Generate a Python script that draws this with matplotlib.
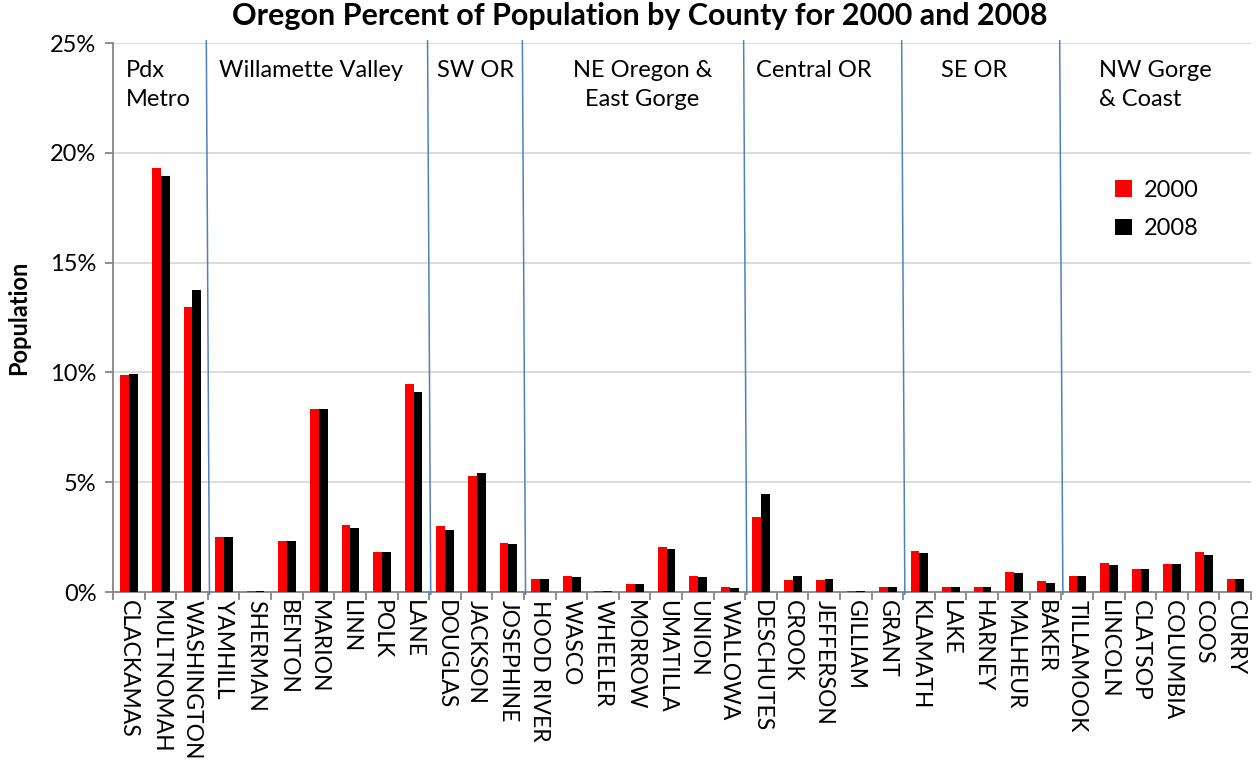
import numpy as np
import matplotlib.pyplot as plt
from matplotlib.ticker import PercentFormatter

plt.rcParams['font.family'] = ['Lato', 'DejaVu Sans']

counties = ["CLACKAMAS", "MULTNOMAH", "WASHINGTON", "YAMHILL", "SHERMAN", "BENTON",
            "MARION", "LINN", "POLK", "LANE", "DOUGLAS", "JACKSON", "JOSEPHINE",
            "HOOD RIVER", "WASCO", "WHEELER", "MORROW", "UMATILLA", "UNION", "WALLOWA",
            "DESCHUTES", "CROOK", "JEFFERSON", "GILLIAM", "GRANT", "KLAMATH", "LAKE",
            "HARNEY", "MALHEUR", "BAKER", "TILLAMOOK", "LINCOLN", "CLATSOP", "COLUMBIA",
            "COOS", "CURRY"]

# percent of state population
pct_2000 = [9.90, 19.30, 12.98, 2.49, 0.05, 2.31, 8.33, 3.04, 1.82, 9.47, 2.99, 5.30, 2.25,
            0.61, 0.73, 0.05, 0.36, 2.06, 0.73, 0.24, 3.40, 0.55, 0.55, 0.05, 0.24, 1.88,
            0.24, 0.24, 0.91, 0.49, 0.73, 1.33, 1.03, 1.27, 1.82, 0.61]
pct_2008 = [9.95, 18.95, 13.75, 2.49, 0.05, 2.31, 8.33, 2.91, 1.82, 9.11, 2.81, 5.40, 2.19,
            0.61, 0.68, 0.05, 0.36, 1.94, 0.68, 0.18, 4.45, 0.73, 0.61, 0.05, 0.24, 1.76,
            0.24, 0.24, 0.85, 0.42, 0.73, 1.21, 1.03, 1.27, 1.70, 0.61]

# regions: (label, index of first county)
regions = [("Pdx\nMetro", 0), ("Willamette Valley", 3), ("SW OR", 10),
           ("NE Oregon &\nEast Gorge", 13), ("Central OR", 20), ("SE OR", 25),
           ("NW Gorge\n& Coast", 30)]
region_label_x = [-0.1, 2.85, 9.75, 16.25, 19.85, 25.7, 30.7]
region_label_ha = ["left", "left", "left", "center", "left", "left", "left"]

fig = plt.figure(figsize=(12.59, 7.63), dpi=100)
ax = fig.add_axes([0.0898, 0.2241, 0.9038, 0.7195])

x = np.arange(len(counties))
w = 0.28
ax.bar(x - 0.13, pct_2000, w, color="#ff0000", label="2000", zorder=3)
ax.bar(x + 0.15, pct_2008, w, color="#000000", label="2008", zorder=3)

ax.set_xlim(-0.5, len(counties) - 0.5)
ax.set_ylim(0, 25)
ax.set_yticks(np.arange(0, 26, 5))
ax.yaxis.set_major_formatter(PercentFormatter(decimals=0))
ax.grid(axis="y", color="#d9d9d9", linewidth=1.3, zorder=0)

ax.set_xticks(x)
ax.set_xticklabels(counties, rotation=270, fontsize=16.5, va="top", ha="center")
ax.set_xticks(np.arange(-0.5, len(counties), 1), minor=True)
ax.tick_params(axis="x", which="major", length=0, pad=6)
ax.tick_params(axis="x", which="minor", length=6, color="#868686", width=1.3)
ax.tick_params(axis="y", length=6, color="#868686", width=1.3, labelsize=17, pad=6)

for side in ["top", "right"]:
    ax.spines[side].set_visible(False)
for side in ["left", "bottom"]:
    ax.spines[side].set_color("#868686")
    ax.spines[side].set_linewidth(1.3)

# region dividers
for label, start in regions[1:]:
    ax.plot([start - 0.55, start - 0.45], [25.1, -0.1], color="#4f81bd",
            linewidth=1.1, zorder=4, clip_on=False)

for (label, start), lx, ha in zip(regions, region_label_x, region_label_ha):
    ax.text(lx, 24.25, label, fontsize=17, ha=ha, va="top", linespacing=1.5)

ax.legend(loc="upper left", bbox_to_anchor=(0.862, 0.79), frameon=False, fontsize=17,
          handlelength=0.7, handleheight=0.7, handletextpad=0.5, labelspacing=0.75)

ax.set_ylabel("Population", fontsize=17, fontweight="bold", labelpad=14)
fig.suptitle("Oregon Percent of Population by County for 2000 and 2008",
             fontsize=22, fontweight="bold", x=0.508, y=0.998)

fig.savefig("out.png", dpi=100)
